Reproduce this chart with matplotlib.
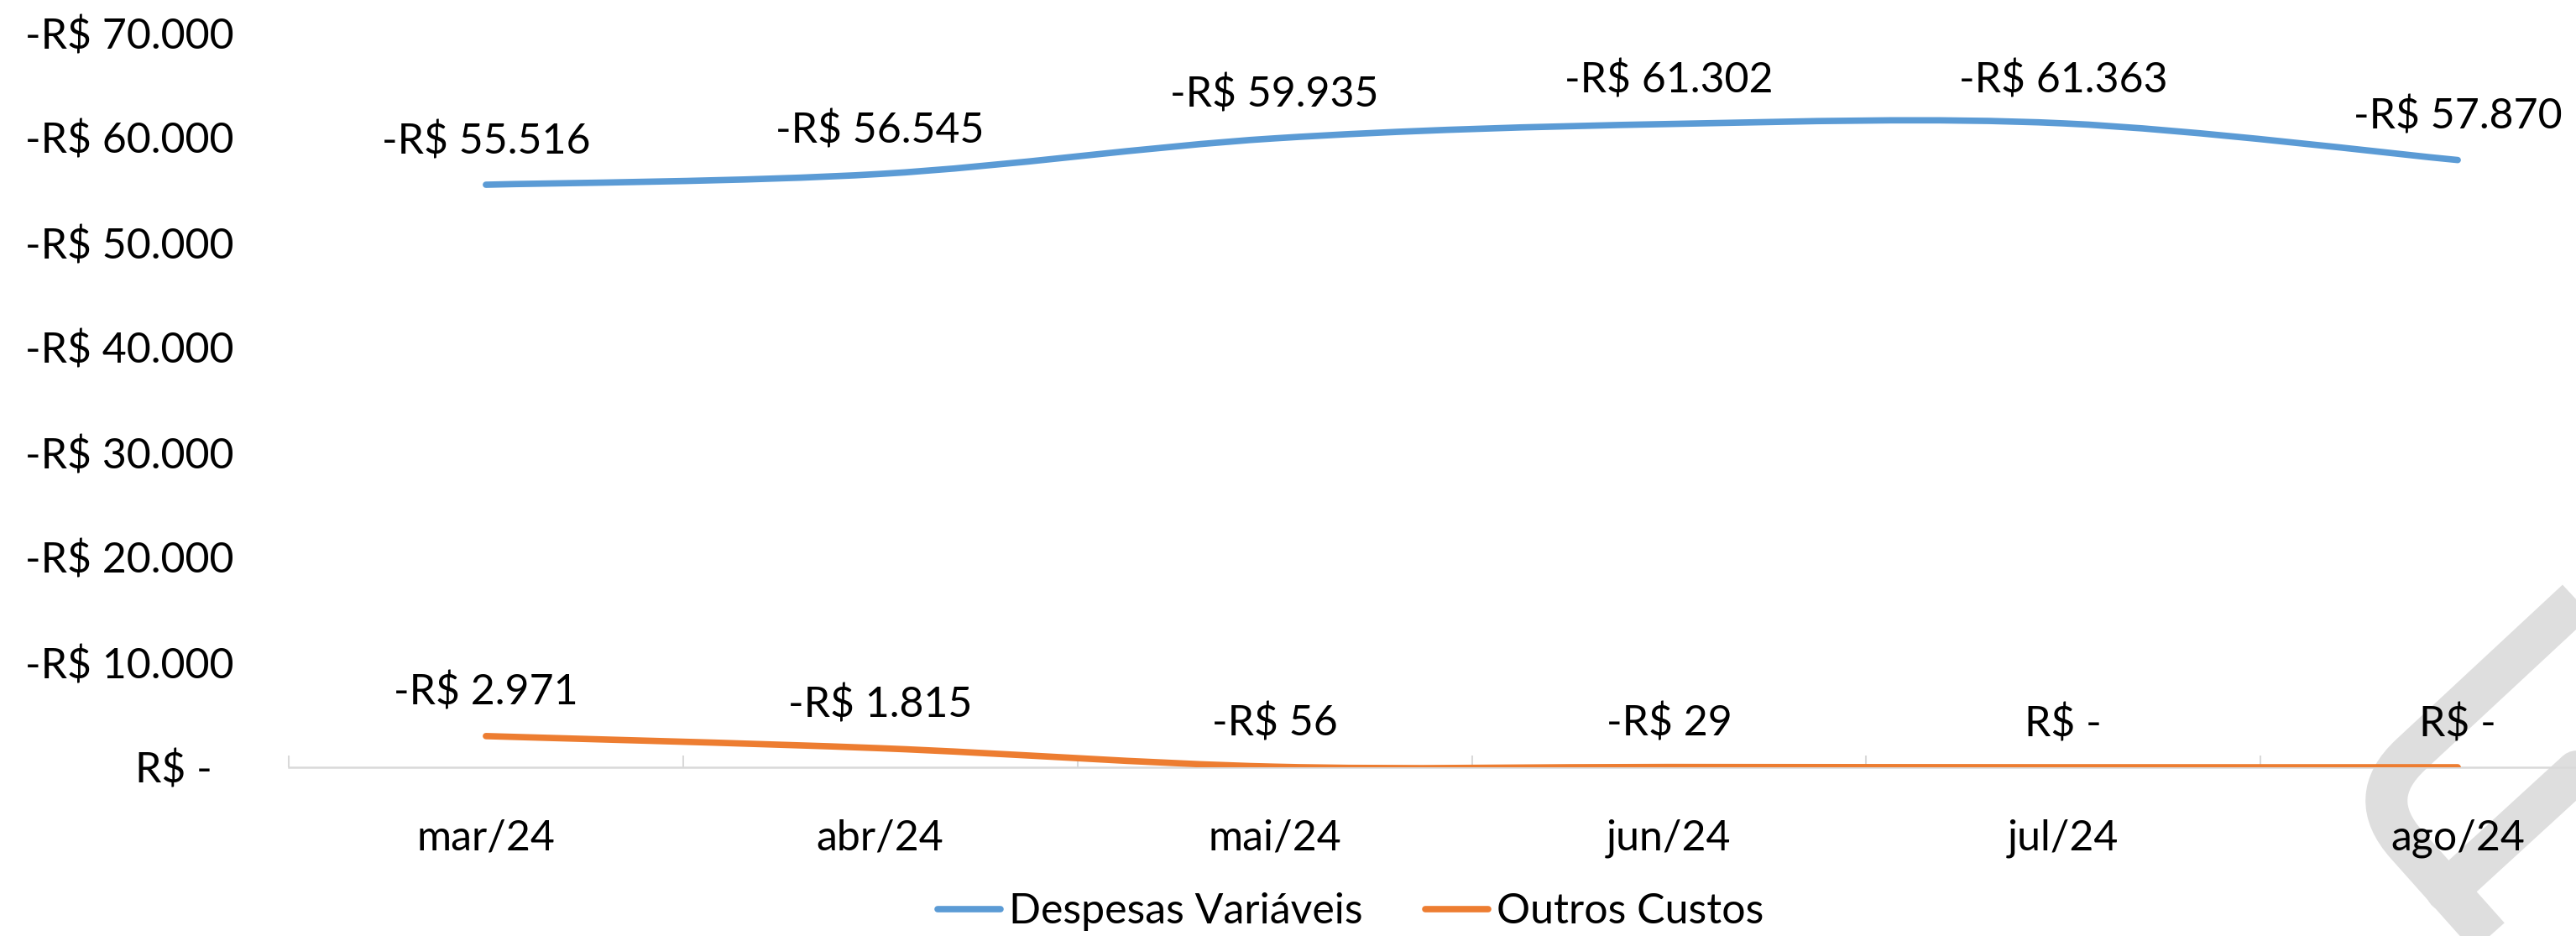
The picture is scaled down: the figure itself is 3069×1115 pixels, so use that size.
import numpy as np
import matplotlib
matplotlib.use("Agg")
import matplotlib.pyplot as plt
from matplotlib.path import Path
from matplotlib.patches import PathPatch
from matplotlib.lines import Line2D
from matplotlib.ticker import FuncFormatter, FixedLocator

# ---- data ----
categories = ["mar/24", "abr/24", "mai/24", "jun/24", "jul/24", "ago/24"]
despesas_variaveis = [55516, 56545, 59935, 61302, 61363, 57870]
outros_custos = [2971, 1815, 56, 29, 0, 0]
series_names = ["Despesas Variáveis", "Outros Custos"]
yticks = [0, 10000, 20000, 30000, 40000, 50000, 60000, 70000]

BLUE = "#5B9BD5"
ORANGE = "#ED7D31"
GRAY = "#D9D9D9"
FS = 36

plt.rcParams["font.family"] = ["Lato", "DejaVu Sans"]


def brl(v):
    if v == 0:
        return "R$ -"
    s = f"{int(round(v)):,}".replace(",", ".")
    return f"-R$ {s}"


def smooth_path(xs, ys):
    # Excel-like smoothing (Catmull-Rom as cubic Bezier)
    pts = np.column_stack([xs, ys]).astype(float)
    n = len(pts)
    verts = [pts[0]]
    codes = [Path.MOVETO]
    for i in range(n - 1):
        p0 = pts[i - 1] if i > 0 else pts[i]
        p1 = pts[i]
        p2 = pts[i + 1]
        p3 = pts[i + 2] if i + 2 < n else pts[i + 1]
        c1 = p1 + (p2 - p0) / 6.0
        c2 = p2 - (p3 - p1) / 6.0
        verts += [c1, c2, p2]
        codes += [Path.CURVE4] * 3
    return Path(verts, codes)


W, H = 3069, 1115
fig = plt.figure(figsize=(W / 100, H / 100), dpi=100)
fig.patch.set_facecolor("white")

# ---- light gray watermark shape (decoration, bottom-right) ----
def fp(x, y):
    return (x / W, 1 - y / H)

wm_verts = [fp(3200, 594), fp(2872, 899), fp(2817, 950), fp(2867, 1006), fp(3040, 1200)]
wm_codes = [Path.MOVETO, Path.LINETO, Path.CURVE3, Path.CURVE3, Path.LINETO]
wm = PathPatch(Path(wm_verts, wm_codes), facecolor="none", edgecolor="#DEDEDE",
               lw=36, capstyle="butt", joinstyle="round",
               transform=fig.transFigure, zorder=-5)
fig.add_artist(wm)
wm2 = Line2D([3200 / W, 2915 / W], [1 - 800 / H, 1 - 1061 / H], color="#DEDEDE",
             lw=36, solid_capstyle="round", transform=fig.transFigure, zorder=-5)
fig.add_artist(wm2)

left = 344 / W
bottom = 1 - 914 / H
top = 1 - 39 / H
right = 3163 / W
ax = fig.add_axes([left, bottom, right - left, top - bottom])
ax.patch.set_alpha(0)

x = np.arange(len(categories))
for vals, color, name in [(despesas_variaveis, BLUE, series_names[0]),
                          (outros_custos, ORANGE, series_names[1])]:
    p = smooth_path(x, vals)
    ax.add_patch(PathPatch(p, facecolor="none", edgecolor=color, lw=5.5,
                           capstyle="round", zorder=3))
    for xi, v in zip(x, vals):
        ax.annotate(brl(v), (xi, v), xytext=(0, 37), textcoords="offset points",
                    ha="center", va="center", fontsize=FS, color="black", zorder=4)

ax.set_xlim(-0.5, len(categories) - 0.5)
ax.set_ylim(0, 70000)

ax.set_xticks(x)
ax.set_xticklabels(categories)
ax.xaxis.set_minor_locator(FixedLocator(np.arange(-0.5, len(categories), 1.0)))
ax.tick_params(axis="x", which="major", length=0, pad=44, labelsize=FS)
ax.tick_params(axis="x", which="minor", direction="in", length=10, width=1.5, color=GRAY)

ax.set_yticks(yticks)
ax.yaxis.set_major_formatter(FuncFormatter(lambda v, pos: "R$ -  " if v == 0 else brl(v)))
ax.tick_params(axis="y", length=0, pad=47, labelsize=FS)

for s in ["top", "right", "left"]:
    ax.spines[s].set_visible(False)
ax.spines["bottom"].set_color(GRAY)
ax.spines["bottom"].set_linewidth(1.8)
ax.spines["bottom"].set_zorder(2)

handles = [Line2D([], [], color=BLUE, lw=5.5, solid_capstyle="round"),
           Line2D([], [], color=ORANGE, lw=5.5, solid_capstyle="round")]
fig.legend(handles, series_names, loc="center", bbox_to_anchor=(1609 / W, 1 - 1086 / H),
           ncol=2, frameon=False, fontsize=FS, handlelength=1.5, handletextpad=0.2,
           columnspacing=1.5)

fig.savefig("out.png", dpi=100, facecolor="white")
